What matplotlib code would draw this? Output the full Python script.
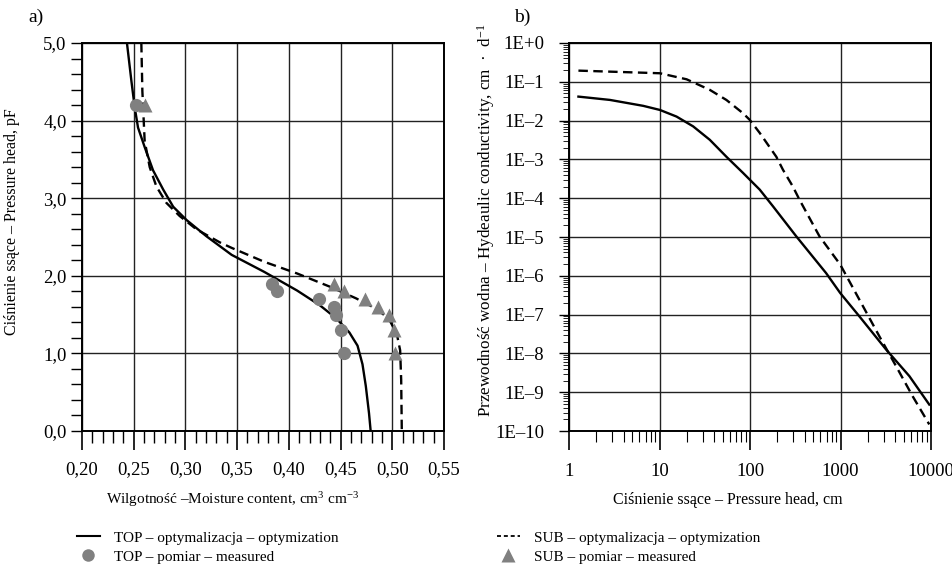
import numpy as np
import matplotlib
matplotlib.use("Agg")
from matplotlib import pyplot as plt
from matplotlib.lines import Line2D
from matplotlib.ticker import FixedLocator, MultipleLocator, LogLocator, NullFormatter, FuncFormatter

plt.rcParams['font.family'] = ['Liberation Serif', 'DejaVu Serif']
plt.rcParams['mathtext.fontset'] = 'custom'
plt.rcParams['mathtext.rm'] = 'Liberation Serif'
plt.rcParams['mathtext.it'] = 'Liberation Serif:italic'

# a) retention curve: moisture content (cm3 cm-3) vs pF
top_theta = [0.2435, 0.2478, 0.251, 0.2542, 0.2606, 0.2687, 0.2786, 0.2882, 0.301, 0.3203,
             0.3447, 0.3763, 0.408, 0.430, 0.446, 0.4585, 0.4664, 0.4712, 0.4744, 0.4775, 0.4791]
top_pf = [5.0, 4.51, 4.17, 3.91, 3.66, 3.36, 3.11, 2.89, 2.72, 2.51,
          2.27, 2.05, 1.81, 1.62, 1.45, 1.27, 1.10, 0.86, 0.58, 0.23, 0.0]

sub_theta = [0.2574, 0.2584, 0.2597, 0.2606, 0.2655, 0.272, 0.2816, 0.2945, 0.3106, 0.3334,
             0.3447, 0.3763, 0.408, 0.4396, 0.4649, 0.4839, 0.4965, 0.5044, 0.5076, 0.5086, 0.5092]
sub_pf = [5.0, 4.38, 4.0, 3.74, 3.40, 3.15, 2.94, 2.77, 2.60, 2.43,
          2.36, 2.18, 2.03, 1.86, 1.71, 1.58, 1.45, 1.25, 1.04, 0.66, 0.0]

top_meas_theta = [0.2526, 0.3833, 0.389, 0.4294, 0.4434, 0.446, 0.450, 0.4529]
top_meas_pf = [4.2, 1.9, 1.8, 1.7, 1.6, 1.5, 1.3, 1.0]
sub_meas_theta = [0.2606, 0.4433, 0.4538, 0.4737, 0.4864, 0.4972, 0.5013, 0.5022]
sub_meas_pf = [4.2, 1.9, 1.8, 1.7, 1.6, 1.5, 1.3, 1.0]

# b) hydraulic conductivity (cm d-1) vs pressure head (cm)
top_h = [1.27, 2.83, 6.6, 10.1, 15.4, 23.5, 35.9, 54.8, 83.5, 128, 179,
         324, 693, 991, 1615, 3184, 5754, 9550]
top_k = [4.15e-2, 3.41e-2, 2.4e-2, 1.88e-2, 1.27e-2, 7.1e-3, 3.2e-3, 1.17e-3, 4.5e-4, 1.66e-4, 6.2e-5,
         1.04e-5, 1.17e-6, 3.6e-7, 9.0e-8, 1.26e-8, 2.6e-9, 4.8e-10]
sub_h = [1.27, 10.1, 19.9, 35.9, 54.8, 83.5, 99, 128, 195, 231, 297, 352,
         585, 991, 1614, 2685, 4102, 6252, 9550]
sub_k = [0.194, 0.166, 0.116, 6.2e-2, 3.4e-2, 1.55e-2, 1.05e-2, 4.8e-3, 1.17e-3, 5.4e-4, 2.0e-4, 9.1e-5,
         1.04e-5, 1.95e-6, 2.43e-7, 2.75e-8, 4.7e-9, 7.9e-10, 1.48e-10]

theta_ticks = [0.20, 0.25, 0.30, 0.35, 0.40, 0.45, 0.50, 0.55]
pf_ticks = [0.0, 1.0, 2.0, 3.0, 4.0, 5.0]
h_ticks = [1, 10, 100, 1000, 10000]
k_exps = list(range(-10, 1))

grey = '#808080'
lw = 1.7
tick_fs = 13.5
lab_fs = 11.5

fig = plt.figure(figsize=(9.53, 5.74), dpi=100)
ax1 = fig.add_axes([0.0860, 0.2491, 0.3799, 0.6760])
ax2 = fig.add_axes([0.5971, 0.2491, 0.3799, 0.6760])

# ---- panel a
ax1.plot(top_theta, top_pf, color='black', lw=lw, zorder=3)
ax1.plot(sub_theta, sub_pf, color='black', lw=lw, dashes=(4, 2.3), zorder=3)
ax1.plot(top_meas_theta, top_meas_pf, 'o', color=grey, ms=9.5, mec='none', zorder=4)
ax1.plot(sub_meas_theta, sub_meas_pf, '^', color=grey, ms=10, mec='none', zorder=4)
ax1.set_xlim(0.20, 0.55)
ax1.set_ylim(0.0, 5.0)
ax1.xaxis.set_major_locator(FixedLocator(theta_ticks))
ax1.xaxis.set_minor_locator(MultipleLocator(0.01))
ax1.yaxis.set_major_locator(FixedLocator(pf_ticks))
ax1.yaxis.set_minor_locator(MultipleLocator(0.2))
ax1.xaxis.set_major_formatter(FuncFormatter(lambda v, p: f"{v:.2f}".replace('.', ',')))
ax1.yaxis.set_major_formatter(FuncFormatter(lambda v, p: f"{v:.1f}".replace('.', ',')))
ax1.tick_params(axis='x', which='major', direction='out', length=14, width=1.2, pad=8, labelsize=tick_fs)
ax1.tick_params(axis='x', which='minor', direction='out', length=8.5, width=1.0)
ax1.tick_params(axis='y', which='both', direction='out', length=8, width=1.0, pad=3, labelsize=tick_fs)
ax1.grid(True, which='major', color='#222222', lw=1.0)
ax1.set_xlabel('Wilgotność –Moisture content, cm$^{3}$ cm$^{-3}$', fontsize=11)
ax1.xaxis.set_label_coords((233 - 82) / 362, (431 - 500) / 388)
ax1.xaxis.label.set_va('center')
ax1.set_ylabel('Ciśnienie ssące – Pressure head, pF', fontsize=lab_fs)
ax1.yaxis.set_label_coords((12 - 82) / 362, (431 - 222) / 388)
ax1.yaxis.label.set_va('center')

# ---- panel b
ax2.plot(top_h, top_k, color='black', lw=lw, zorder=3)
ax2.plot(sub_h, sub_k, color='black', lw=lw, dashes=(4, 2.3), zorder=3)
ax2.set_xscale('log')
ax2.set_yscale('log')
ax2.set_xlim(1, 10000)
ax2.set_ylim(1e-10, 1)
ax2.xaxis.set_major_locator(FixedLocator(h_ticks))
ax2.xaxis.set_minor_locator(LogLocator(base=10, subs=np.arange(2, 10)))
ax2.xaxis.set_minor_formatter(NullFormatter())
ax2.xaxis.set_major_formatter(FuncFormatter(lambda v, p: f"{v:g}"))
ax2.yaxis.set_major_locator(FixedLocator([10.0 ** e for e in k_exps]))
ax2.yaxis.set_minor_locator(LogLocator(base=10, subs=np.arange(2, 10), numticks=20))
ax2.yaxis.set_minor_formatter(NullFormatter())
ax2.yaxis.set_major_formatter(FuncFormatter(
    lambda v, p: "1E+0" if round(np.log10(v)) == 0 else "1E\u2013%d" % -round(np.log10(v))))
ax2.tick_params(axis='x', which='major', direction='out', length=14, width=1.2, pad=9, labelsize=tick_fs)
ax2.tick_params(axis='x', which='minor', direction='out', length=8, width=0.8)
ax2.tick_params(axis='y', which='major', direction='out', length=7, width=1.0, pad=11, labelsize=tick_fs)
ax2.tick_params(axis='y', which='minor', direction='out', length=4.5, width=0.6)
ax2.grid(True, which='major', color='#222222', lw=1.0)
ax2.set_xlabel('Ciśnienie ssące – Pressure head, cm', fontsize=lab_fs)
ax2.xaxis.set_label_coords((728 - 569) / 362, (431 - 500) / 388)
ax2.xaxis.label.set_va('center')
ax2.set_ylabel('Przewodność wodna – Hydeaulic conductivity, cm  ·  d$^{-1}$', fontsize=12.3)
ax2.yaxis.set_label_coords((486 - 569) / 362, (431 - 220) / 388)
ax2.yaxis.label.set_va('center')

for ax in (ax1, ax2):
    for s in ax.spines.values():
        s.set_linewidth(1.4)
    ax.set_axisbelow(True)

fig.text(28 / 953, 1 - 17 / 574, 'a)', fontsize=14, va='center', ha='left')
fig.text(514 / 953, 1 - 17 / 574, 'b)', fontsize=14, va='center', ha='left')

# ---- legend
h_top = [Line2D([], [], color='black', lw=1.5),
         Line2D([], [], ls='none', marker='o', color=grey, ms=9, mec='none')]
h_sub = [Line2D([], [], color='black', lw=1.3, dashes=(2.2, 1.6)),
         Line2D([], [], ls='none', marker='^', color=grey, ms=10, mec='none')]
leg_kw = dict(loc='upper left', frameon=False, fontsize=11, borderpad=0, borderaxespad=0,
              handlelength=1.5, handletextpad=0.95, labelspacing=0.35)
fig.legend(h_top, ['TOP – optymalizacja – optymization', 'TOP – pomiar – measured'],
           bbox_to_anchor=(77 / 953, 1 - 531 / 574), **leg_kw)
fig.legend(h_sub, ['SUB – optymalizacja – optymization', 'SUB – pomiar – measured'],
           bbox_to_anchor=(497 / 953, 1 - 531 / 574), **leg_kw)

fig.savefig('out.png', dpi=100)
